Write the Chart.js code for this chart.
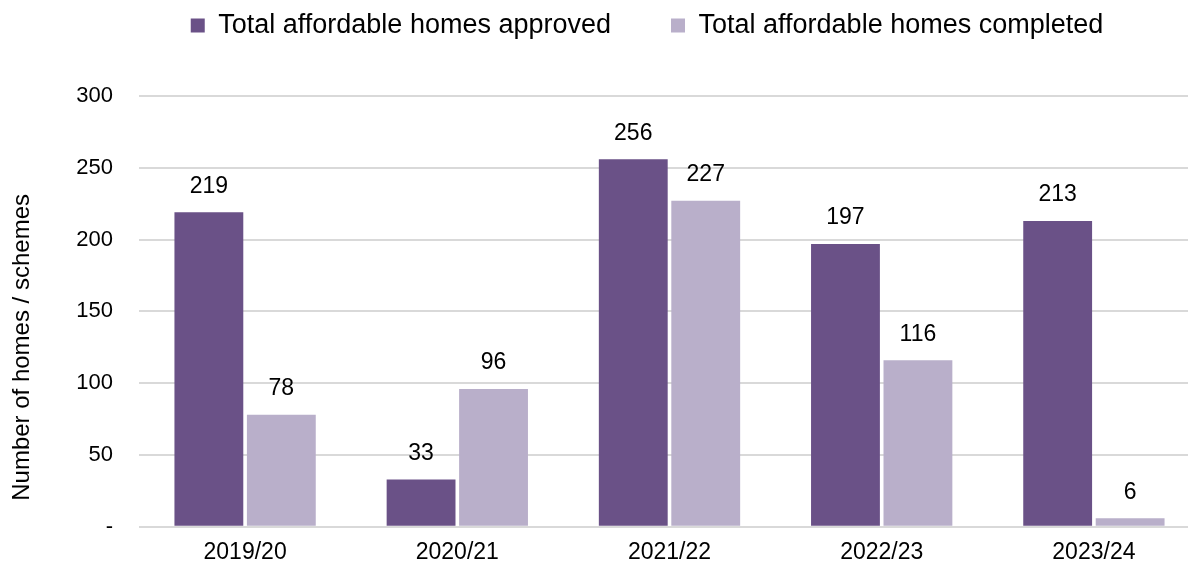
<!DOCTYPE html>
<html>
<head>
  <title>Affordable homes</title>
  <script src="https://cdn.jsdelivr.net/npm/chart.js"></script>
  <style>
    html, body { margin: 0; padding: 0; background: #fff; overflow: hidden; }
    #wrap { position: relative; width: 1200px; height: 566px; }
  </style>
</head>
<body>
  <div id="wrap">
    <canvas id="chart" width="1200" height="566"></canvas>
  </div>
  <script>
    const years = ['2019/20', '2020/21', '2021/22', '2022/23', '2023/24'];
    const approved = [219, 33, 256, 197, 213];
    const completed = [78, 96, 227, 116, 6];

    const FONT = "'Liberation Sans', Arial, sans-serif";

    // value labels above each bar
    const barLabels = {
      id: 'barLabels',
      afterDatasetsDraw(chart) {
        const ctx = chart.ctx;
        ctx.save();
        ctx.font = '23px ' + FONT;
        ctx.fillStyle = '#000';
        ctx.textAlign = 'center';
        ctx.textBaseline = 'middle';
        chart.data.datasets.forEach((ds, i) => {
          chart.getDatasetMeta(i).data.forEach((bar, j) => {
            ctx.fillText(ds.data[j], bar.x, bar.y - 26);
          });
        });
        ctx.restore();
      }
    };

    // fixed legend band height; the row is shifted up and right inside it
    const legendBand = {
      id: 'legendBand',
      beforeInit(chart) {
        const lg = chart.legend;
        const fit = lg.fit;
        lg.fit = function () {
          fit.call(this);
          this.height = 96;
        };
        const draw = lg.draw;
        lg.draw = function () {
          const ctx = this.ctx;
          const bottom = this.bottom;
          this.bottom = bottom + 80;
          ctx.save();
          ctx.translate(43, -48);
          draw.call(this);
          ctx.restore();
          this.bottom = bottom;
        };
      }
    };

    // y title sits a little below the middle of the axis
    function shiftYTitle(s) {
      s.width = 131;
      if (s._titleShifted) return;
      s._titleShifted = true;
      const drawTitle = s.drawTitle;
      s.drawTitle = function () {
        this.top += 36;
        this.bottom += 36;
        drawTitle.call(this);
        this.top -= 36;
        this.bottom -= 36;
      };
    }

    new Chart(document.getElementById('chart'), {
      type: 'bar',
      data: {
        labels: years,
        datasets: [
          {
            label: 'Total affordable homes approved',
            data: approved,
            backgroundColor: '#6a5187',
            barPercentage: 0.95,
            categoryPercentage: 0.683
          },
          {
            label: 'Total affordable homes completed',
            data: completed,
            backgroundColor: '#b9afca',
            barPercentage: 0.95,
            categoryPercentage: 0.683
          }
        ]
      },
      options: {
        responsive: false,
        animation: false,
        layout: { padding: { left: 8, right: 0, top: 0, bottom: 0 } },
        plugins: {
          tooltip: { enabled: false },
          legend: {
            position: 'top',
            labels: {
              boxWidth: 14,
              boxHeight: 14,
              padding: 60,
              color: '#000',
              font: { family: FONT, size: 27 }
            }
          }
        },
        scales: {
          x: {
            grid: { display: false, drawTicks: false },
            border: { display: false },
            ticks: { color: '#000', padding: 12, font: { family: FONT, size: 23 } },
            afterFit(s) { s.height = 38; }
          },
          y: {
            min: 0,
            max: 300,
            border: { display: false },
            grid: { color: '#d9d9d9', lineWidth: 2, drawTicks: false },
            ticks: {
              stepSize: 50,
              color: '#000',
              padding: 26,
              font: { family: FONT, size: 22 },
              callback: v => v === 0 ? '-' : v
            },
            title: {
              display: true,
              text: 'Number of homes / schemes',
              color: '#000',
              padding: 0,
              font: { family: FONT, size: 24 }
            },
            afterFit: shiftYTitle
          }
        }
      },
      plugins: [barLabels, legendBand]
    });
  </script>
</body>
</html>
